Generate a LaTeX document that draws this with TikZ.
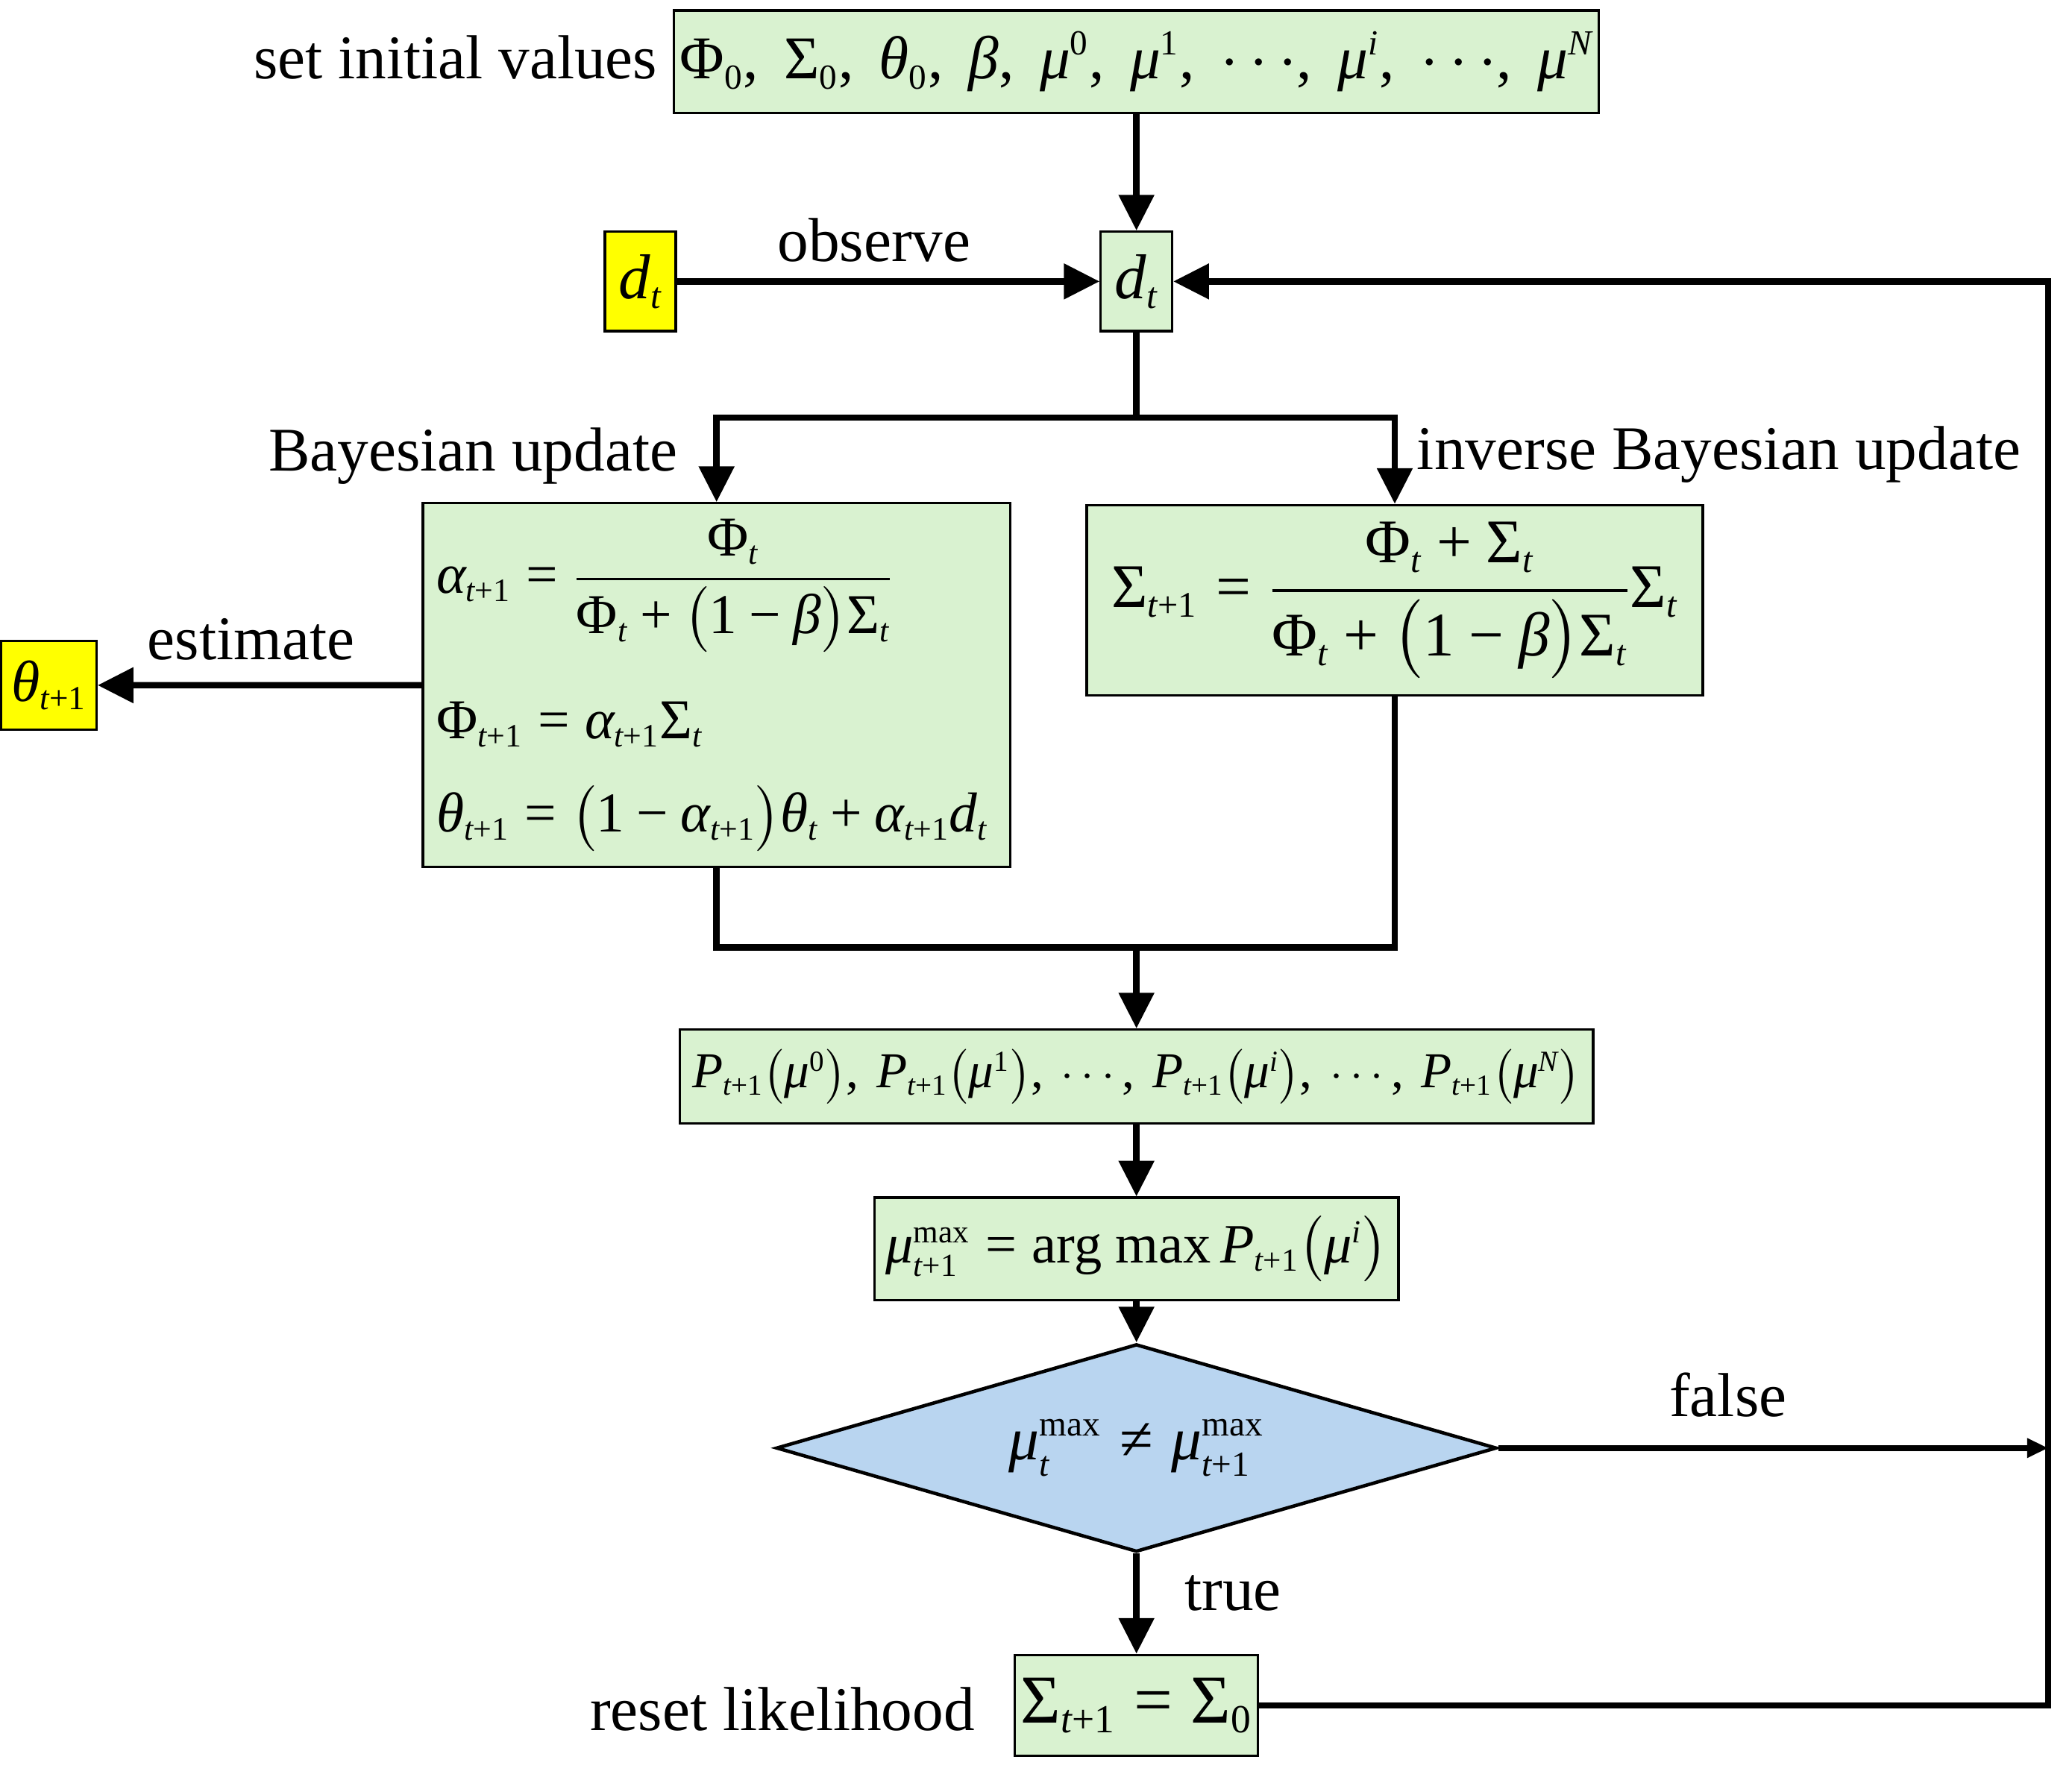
\documentclass[tikz,border=0pt]{standalone}
\usepackage{amsmath}
\usepackage{fontspec}
\setmainfont{Liberation Serif}
\usetikzlibrary{arrows.meta,shapes.geometric}
\renewcommand{\defaultscriptratio}{.58}
\definecolor{gfill}{RGB}{217,242,208}
\definecolor{bfill}{RGB}{185,213,240}
\definecolor{yfill}{RGB}{255,255,0}
\newcommand{\vI}[1]{\text{\itshape #1}}
\newcommand{\vU}[1]{\text{\upshape #1}}
\newcommand{\tpo}{\vI{t}\vU{+1}}
\newcommand{\Eq}{\mathrel{\vU{=}}}
\newcommand{\Pl}{\mathbin{\vU{+}}}
\newcommand{\Mn}{\mathbin{\vU{−}}}
\newcommand{\Ne}{\mathrel{\vU{≠}}}
\newcommand{\Cm}{\mathpunct{\vU{,}}\:}
\newcommand{\Dts}{{\cdots}}
\newcommand{\xPhi}{\vU{Φ}}
\newcommand{\xSig}{\vU{Σ}}
\newcommand{\xal}{\vI{α}}
\newcommand{\xbe}{\vI{β}}
\newcommand{\xth}{\vI{θ}}
\newcommand{\xmu}{\vI{μ}}
\newcommand{\xd}{\vI{d}}
\newcommand{\xP}{\vI{P}}
\begin{document}
\begin{tikzpicture}[x=0.5pt,y=-0.5pt,
  gbox/.style={draw=black,line width=0.9pt,fill=gfill,inner sep=0pt,align=center},
  ybox/.style={gbox,fill=yfill},
  conn/.style={line width=2.4pt},
  arr/.style={conn,-{Triangle[length=13.5pt,width=13pt]}},
  arrs/.style={conn,-{Triangle[length=8pt,width=7pt]}},
  lbl/.style={inner sep=0pt,font=\fontsize{23.5}{28}\selectfont}]
\useasboundingbox (0,0) rectangle (1568,1349.5);

% boxes
\node[gbox,minimum width=350pt,minimum height=38.85pt,font=\fontsize{23}{28}\selectfont] (init) at (860,46.75)
  {$\xPhi_{\vU{0}}\Cm \xSig_{\vU{0}}\Cm \xth_{\vU{0}}\Cm \xbe\Cm \xmu^{\vU{0}}\Cm \xmu^{\vU{1}}\Cm \Dts\Cm \xmu^{\vI{i}}\Cm \Dts\Cm \xmu^{\vI{N}}$};
\node[ybox,minimum width=26.8pt,minimum height=37.6pt,font=\fontsize{24}{28}\selectfont] (dY) at (484.6,213) {$\xd_{\vI{t}}$};
\node[gbox,minimum width=27pt,minimum height=37.6pt,font=\fontsize{24}{28}\selectfont] (dG) at (860,213) {$\xd_{\vI{t}}$};
\node[gbox,minimum width=222.25pt,minimum height=137.7pt,text width=212pt,inner xsep=5pt,align=left,
  font=\fontsize{21.3}{35.5}\selectfont] (bay) at (542.25,518.6)
  {\mbox{$\xal_{\tpo} \Eq \dfrac{\xPhi_{\vI{t}}}{\xPhi_{\vI{t}} \Pl \bigl(\vU{1}\Mn\xbe\bigr)\xSig_{\vI{t}}}$}\\[17.5pt]
   \mbox{$\xPhi_{\tpo} \Eq \xal_{\tpo}\xSig_{\vI{t}}$}\\
   \mbox{$\xth_{\tpo} \Eq \bigl(\vU{1}\Mn\xal_{\tpo}\bigr)\xth_{\vI{t}} \Pl \xal_{\tpo}\xd_{\vI{t}}$}};
\node[gbox,minimum width=233.1pt,minimum height=72.05pt,font=\fontsize{23.5}{28}\selectfont] (inv) at (1055.5,454.35)
  {$\xSig_{\tpo} \Eq \dfrac{\xPhi_{\vI{t}} \Pl \xSig_{\vI{t}}}{\xPhi_{\vI{t}} \Pl \bigl(\vU{1}\Mn\xbe\bigr)\xSig_{\vI{t}}}\xSig_{\vI{t}}$};
\node[ybox,minimum width=36pt,minimum height=33.65pt,font=\fontsize{22}{26}\selectfont] (thY) at (37,518.65) {$\xth_{\tpo}$};
\node[gbox,minimum width=345.6pt,minimum height=35.55pt,font=\fontsize{19}{24}\selectfont] (P) at (860,814.85)
  {$\xP_{\tpo}\bigl(\xmu^{\vU{0}}\bigr)\Cm \xP_{\tpo}\bigl(\xmu^{\vU{1}}\bigr)\Cm \cdots\Cm \xP_{\tpo}\bigl(\xmu^{\vI{i}}\bigr)\Cm \cdots\Cm \xP_{\tpo}\bigl(\xmu^{\vI{N}}\bigr)$};
\node[gbox,minimum width=198.25pt,minimum height=38.75pt,font=\fontsize{21}{24}\selectfont] (amax) at (860,945.25)
  {$\xmu^{\vU{max}}_{\tpo} \Eq \vU{arg max}\,\xP_{\tpo}\bigl(\xmu^{\vI{i}}\bigr)$};
\node[diamond,aspect=3.47,draw=black,line width=1.3pt,fill=bfill,inner sep=0pt,minimum width=272.6pt,minimum height=78.65pt,
  font=\fontsize{23}{26}\selectfont] (dia) at (860,1096)
  {$\xmu^{\vU{max}}_{\vI{t}} \Ne \xmu^{\vU{max}}_{\tpo}$};
\node[gbox,minimum width=92pt,minimum height=38.2pt,font=\fontsize{26}{30}\selectfont] (reset) at (860,1290.8)
  {$\xSig_{\tpo} \Eq \xSig_{\vU{0}}$};

% labels
\node[lbl,anchor=base east] (lset) at (497.8,59.8) {set initial values};
\node[lbl,anchor=base] (lobs) at (661.5,198) {observe};
\node[lbl,anchor=base east] (lbay) at (513,356.5) {Bayesian update};
\node[lbl,anchor=base west] (linv) at (1072,355.2) {inverse Bayesian update};
\node[lbl,anchor=base] (lest) at (190,499) {estimate};
\node[lbl,anchor=base] (lfalse) at (1307.7,1072) {false};
\node[lbl,anchor=base] (ltrue) at (933,1219) {true};
\node[lbl,anchor=base east] (lreset) at (738,1310) {reset likelihood};

% helper coordinates
\coordinate (sp) at (860,316);
\coordinate (mg) at (860,717);
\coordinate (rtop) at (1550,213);
\coordinate (fend) at (1550,1096);

% connectors
\draw[arr] (init.south) -- (dG.north);
\draw[arr] (dY.east) -- (dG.west);
\draw[conn] (dG.south) -- (sp);
\draw[arr] (sp) -| (bay.north);
\draw[arr] (sp) -| (inv.north);
\draw[arr] (bay.west) -- (thY.east);
\draw[conn] (bay.south) |- (mg) -| (inv.south);
\draw[arr] (mg) -- (P.north);
\draw[arr] (P.south) -- (amax.north);
\draw[arr] (amax.south) -- (dia.north);
\draw[arrs] (dia.east) -- (fend);
\draw[arr] (dia.south) -- (reset.north);
\draw[arr] (reset.east) -| (rtop) -- (dG.east);
\end{tikzpicture}
\end{document}
